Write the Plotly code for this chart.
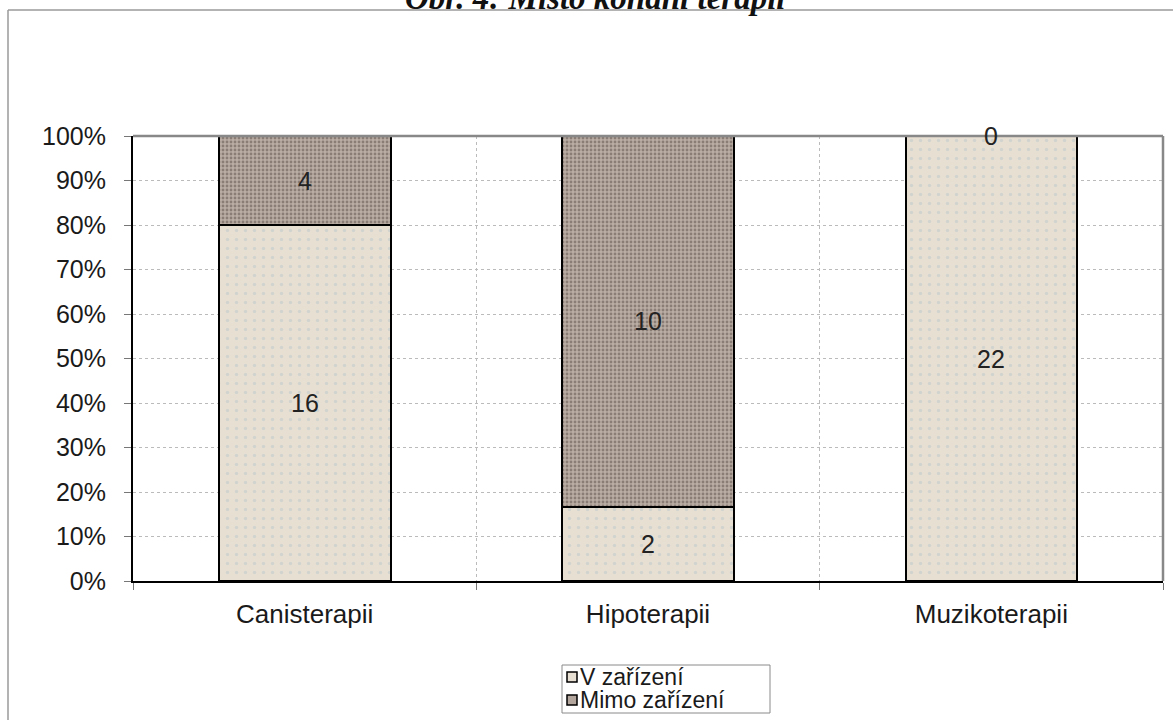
import plotly.graph_objects as go

categories = ["Canisterapii", "Hipoterapii", "Muzikoterapii"]
v_zarizeni = [16, 2, 22]
mimo_zarizeni = [4, 10, 0]
series_names = ["V zařízení", "Mimo zařízení"]
title_text = "Obr. 4: Místo konání terapií"

FONT = "Liberation Sans, Arial, sans-serif"
LIGHT = "#e8dfd3"
DARK = "#b3a69d"

fig = go.Figure()
fig.add_trace(go.Bar(
    x=categories, y=v_zarizeni, name=series_names[0],
    marker=dict(color=LIGHT, line=dict(color="black", width=2),
                pattern=dict(shape=".", fgcolor="#b9c8cc", bgcolor=LIGHT,
                             size=9, solidity=0.12)),
    width=0.5, hoverinfo="skip",
))
fig.add_trace(go.Bar(
    x=categories, y=mimo_zarizeni, name=series_names[1],
    marker=dict(color=DARK, line=dict(color="black", width=2),
                pattern=dict(shape=".", fgcolor="#5a4e48", bgcolor="#b9ada4",
                             size=4, solidity=0.4)),
    width=0.5, hoverinfo="skip",
))

L, R, T, B = 133, 10, 136, 139
W, H = 1173, 720
pw, ph = W - L - R, H - T - B
fx = lambda px: (px - L) / pw
fy = lambda py: (H - B - py) / ph

# data labels at segment centers (percent stacked)
annotations = []
for i, c in enumerate(categories):
    tot = v_zarizeni[i] + mimo_zarizeni[i]
    p1 = v_zarizeni[i] / tot * 100
    p2 = mimo_zarizeni[i] / tot * 100
    annotations.append(dict(x=c, y=p1 / 2, text=str(v_zarizeni[i]), showarrow=False,
                            font=dict(size=25, color="#222222", family=FONT)))
    annotations.append(dict(x=c, y=p1 + p2 / 2, text=str(mimo_zarizeni[i]), showarrow=False,
                            font=dict(size=25, color="#222222", family=FONT)))

annotations.append(dict(xref="paper", yref="paper", x=fx(596), xanchor="center",
                        y=fy(18), yanchor="bottom",
                        text="<b><i>" + title_text + "</i></b>", showarrow=False,
                        font=dict(size=33, color="#111111",
                                  family="Liberation Serif, Times New Roman, serif")))

shapes = [
    # outer frame
    dict(type="line", xref="paper", yref="paper", x0=fx(8), x1=fx(1200), y0=fy(10), y1=fy(10),
         line=dict(color="#9a9a9a", width=1.5)),
    dict(type="line", xref="paper", yref="paper", x0=fx(8), x1=fx(8), y0=fy(10), y1=fy(740),
         line=dict(color="#9a9a9a", width=1.5)),
    # plot area top/right border
    dict(type="line", xref="paper", yref="paper", x0=0, x1=1, y0=1, y1=1,
         line=dict(color="#888888", width=2.5)),
    dict(type="line", xref="paper", yref="paper", x0=1, x1=1, y0=0, y1=1,
         line=dict(color="#888888", width=2.5)),
    # legend box
    dict(type="rect", xref="paper", yref="paper", x0=fx(562), x1=fx(770), y0=fy(665), y1=fy(713),
         line=dict(color="#8a8a8a", width=1), fillcolor="white"),
]

# legend entries
leg_colors = [LIGHT, DARK]
leg_y = [677, 700]
for name, col, yc in zip(series_names, leg_colors, leg_y):
    shapes.append(dict(type="rect", xref="paper", yref="paper",
                       x0=fx(567), x1=fx(577), y0=fy(yc + 5), y1=fy(yc - 5),
                       line=dict(color="black", width=1.5), fillcolor=col))
    annotations.append(dict(xref="paper", yref="paper", x=fx(579), xanchor="left",
                            y=fy(yc), yanchor="middle", text=name, showarrow=False,
                            height=20, valign="middle", borderpad=0,
                            font=dict(size=23, color="#1a1a1a", family=FONT)))

fig.update_layout(
    annotations=annotations,
    shapes=shapes,
    barmode="stack", barnorm="percent",
    width=W, height=H,
    margin=dict(l=L, r=R, t=T, b=B, pad=0, autoexpand=False),
    paper_bgcolor="white", plot_bgcolor="white",
    font=dict(family=FONT, size=25, color="#1a1a1a"),
    showlegend=False,
    xaxis=dict(type="category", tickson="boundaries", ticks="outside", ticklen=7,
               tickcolor="#777777", showgrid=True, gridcolor="#bbbbbb", griddash="dot",
               showline=True, linecolor="black", linewidth=2, automargin=False,
               ticklabelstandoff=9,
               tickfont=dict(size=26, family=FONT, color="#1a1a1a"),
               range=[-0.5, 2.5]),
    yaxis=dict(range=[0, 100], dtick=10, ticksuffix="%", ticks="outside", ticklen=7,
               tickcolor="#777777", showgrid=True, gridcolor="#bbbbbb", griddash="dot",
               showline=True, linecolor="black", linewidth=2, zeroline=False, automargin=False,
               ticklabelstandoff=13,
               tickfont=dict(size=25, family=FONT, color="#1a1a1a")),
)

fig.write_html("out.html", config={"displayModeBar": False},
               post_script="document.body.style.margin='0';")
